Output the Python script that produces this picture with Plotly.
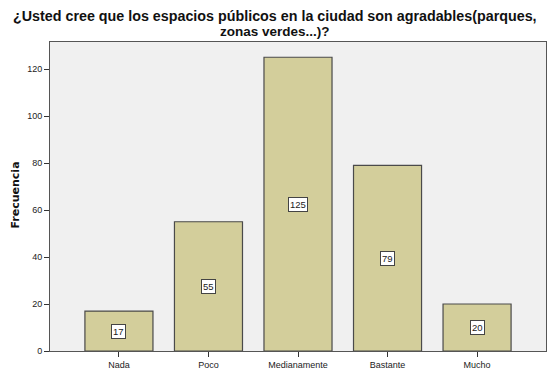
import plotly.graph_objects as go

categories = ["Nada", "Poco", "Medianamente", "Bastante", "Mucho"]
values = [17, 55, 125, 79, 20]
y_ticks = [0, 20, 40, 60, 80, 100, 120]
title_lines = ["¿Usted cree que los espacios públicos en la ciudad son agradables(parques,",
               "zonas verdes...)?"]

FONT = "Liberation Sans, Arial"
# page body has an 8px margin: figure is sized/offset to compensate
OFF = 8

fig = go.Figure()
fig.add_trace(go.Bar(
    x=list(range(len(categories))), y=values, width=0.76,
    marker=dict(color="#d3ce9b", line=dict(color="#4a4a4a", width=1.2)),
    hoverinfo="skip",
))

for i, v in enumerate(values):
    fig.add_annotation(x=i, y=v / 2, text=str(v), showarrow=False,
                       font=dict(family=FONT, size=9.5, color="#222"),
                       bgcolor="white", bordercolor="#444", borderwidth=1, borderpad=1)

for line, ys, fs in zip(title_lines, [26, 11], [14.3, 13.5]):
    fig.add_annotation(xref="paper", yref="paper", x=0.4536, y=1, yshift=ys, xanchor="center",
                       yanchor="middle", text="<b>" + line + "</b>", showarrow=False,
                       font=dict(family=FONT, size=fs, color="#111"))
fig.add_annotation(xref="paper", yref="paper", x=0, xshift=-35, y=0.5, yshift=1, xanchor="center",
                   yanchor="middle", text="<b>Frecuencia</b>", textangle=-90, showarrow=False,
                   font=dict(family="DejaVu Sans", size=11, color="#111"))

fig.update_layout(
    width=555 - OFF, height=375 - OFF,
    margin=dict(l=50 - OFF, r=9, t=42 - OFF, b=24, autoexpand=False),
    paper_bgcolor="white", plot_bgcolor="#f0f0f0",
    showlegend=False,
    xaxis=dict(range=[-0.77, 4.77], tickmode="array", tickvals=list(range(len(categories))),
               ticktext=categories, ticks="outside", ticklen=5, tickcolor="#333", automargin=False,
               showgrid=False, zeroline=False, showline=True, linecolor="#555", linewidth=1, mirror=True,
               tickfont=dict(family=FONT, size=9, color="#222")),
    yaxis=dict(range=[0, 131.5], tickmode="array", tickvals=y_ticks, ticks="outside", ticklen=5,
               tickcolor="#333", showgrid=False, zeroline=False, showline=True, linecolor="#555",
               linewidth=1, mirror=True, automargin=False,
               tickfont=dict(family=FONT, size=9, color="#222")),
)

fig.write_html("out.html")
